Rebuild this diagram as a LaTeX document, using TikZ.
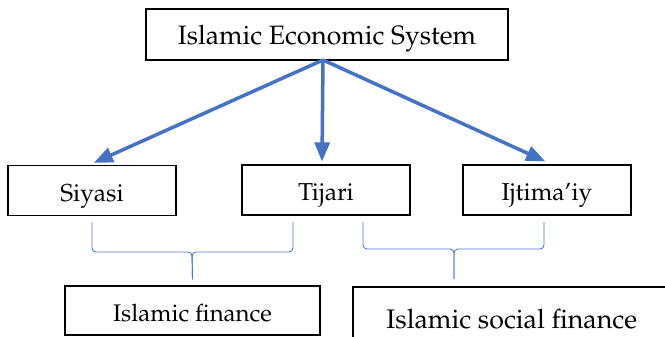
\documentclass[tikz,border=0pt]{standalone}
\usepackage[T1]{fontenc}
\usepackage{mathpazo}
\usepackage{xcolor}
\usetikzlibrary{positioning,arrows,calc}
\definecolor{arrowblue}{HTML}{4472C4}
\definecolor{braceblue}{HTML}{4A7BD0}

\tikzset{
  box/.style={draw, line width=1.5pt, minimum width=168pt, minimum height=50pt, inner sep=0pt, text depth=0pt, text height=21pt},
  link/.style={-triangle 45, line width=3.5pt, arrowblue},
  curly/.style={braceblue, line width=0.9pt, rounded corners=4pt}
}

\begin{document}
\begin{tikzpicture}[x=1pt,y=-1pt]
  \useasboundingbox (0,0) rectangle (665,337);
  \clip (0,0) rectangle (665,337);

  % Top
  \node [box,minimum width=362pt,minimum height=51pt,font=\fontsize{26.6}{30}\selectfont] (ies) at (327,34.5) {Islamic Economic System};
  \coordinate (hub) at (323,60);

  % Branches
  \node [box,font=\fontsize{24.5}{28}\selectfont] (siyasi) at (92,190.5) {Siyasi};
  \node [box,font=\fontsize{24.5}{28}\selectfont] (tijari) at (326,190) {Tijari};
  \node [box,font=\fontsize{24.5}{28}\selectfont] (ijtimaiy) at (547,190) {Ijtima'iy};

  \draw [link] (hub) -- ($(siyasi.north)+(2,-2)$);
  \draw [link] (hub) -- ($(tijari.north)+(-4,-3)$);
  \draw [link] (hub) -- ($(ijtimaiy.north)+(-2,-3)$);

  % Finance boxes
  \node [box,minimum width=255pt,minimum height=49pt,font=\fontsize{24}{28}\selectfont] (finance) at (192.5,310.5) {Islamic finance};
  \node [box,anchor=north west,minimum width=318pt,minimum height=62pt,font=\fontsize{26.8}{30}\selectfont] (social) at (352,286) {Islamic social finance};

  % Brace 1
  \coordinate (b1l) at ($(siyasi.south)+(0,6)$);
  \coordinate (b1r) at (293,222);
  \coordinate (b1m) at (192,252);
  \coordinate (b1t) at ($(finance.north)+(0,-6)$);
  \draw [curly] (b1l) |- (b1m) -- (b1t);
  \draw [curly] (b1r) |- (b1m) -- (b1t);

  % Brace 2
  \coordinate (b2l) at (363,222);
  \coordinate (b2r) at (544,222);
  \coordinate (b2m) at (454,249);
  \coordinate (b2t) at (454,279);
  \draw [curly] (b2l) |- (b2m) -- (b2t);
  \draw [curly] (b2r) |- (b2m) -- (b2t);

\end{tikzpicture}
\end{document}
